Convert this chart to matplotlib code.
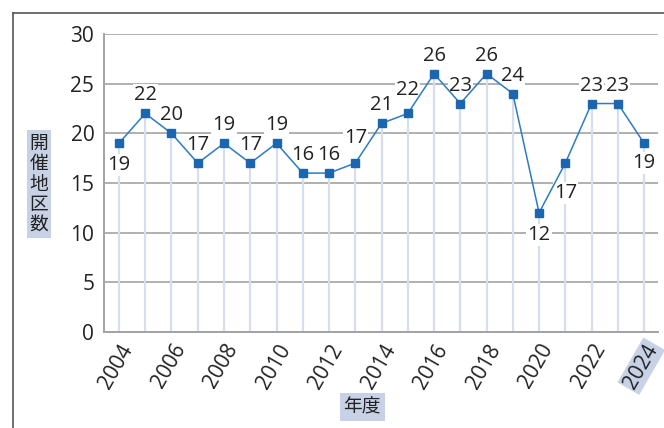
import matplotlib.pyplot as plt
from matplotlib.lines import Line2D

plt.rcParams['font.family'] = ['Open Sans', 'Noto Sans CJK JP', 'DejaVu Sans']

years = list(range(2004, 2025))
counts = [19, 22, 20, 17, 19, 17, 19, 16, 16, 17, 21, 22, 26, 23, 26, 24, 12, 17, 23, 23, 19]
tick_years = list(range(2004, 2025, 2))
ylabel = '開催地区数'
xlabel = '年度'

# label offsets (pixels), negative = below the marker
label_dy = {2004: -22, 2013: 25, 2015: 23, 2020: -22, 2021: -30, 2024: -20}

fig = plt.figure(figsize=(6.64, 4.28), dpi=100)
W, H = 664, 428
ax = fig.add_axes([104 / W, 1 - 332 / H, 554 / W, 298 / H])

line_col = '#2c7bc4'
mark_col = '#1c66b0'
grid_col = '#a3a3a3'
drop_col = '#d6ddef'
hl = '#c8d2e6'

# drop lines from each point to the axis
ax.vlines(years, 0, counts, color=drop_col, lw=1.6, zorder=1)
ax.plot(years, counts, color=line_col, lw=1.1, zorder=3)
ax.plot(years, counts, ls='none', marker='s', ms=5.3, color=mark_col, zorder=4)

for y, c in zip(years, counts):
    dy = label_dy.get(y, 18)
    ax.annotate(str(c), (y, c), xytext=(0, dy), textcoords='offset pixels',
                ha='center', va='center', fontsize=14.5, color='#222222', zorder=2,
                bbox=dict(boxstyle='square,pad=0.05', fc='white', ec='none'))

ax.set_xlim(2003.43, 2024.53)
ax.set_ylim(0, 30)
ax.set_yticks(range(0, 31, 5))
ax.set_xticks(tick_years)
ax.set_xticklabels([str(t) for t in tick_years], rotation=60, ha='right', va='top',
                   rotation_mode='anchor', fontsize=15, color='#222222')
ax.tick_params(axis='y', length=0, pad=7, labelsize=15, labelcolor='#222222')
ax.tick_params(axis='x', length=0, pad=6)
ax.yaxis.grid(True, color=grid_col, lw=1.2)
ax.set_axisbelow(True)
for s in ['top', 'right']:
    ax.spines[s].set_visible(False)
for s in ['left', 'bottom']:
    ax.spines[s].set_color(grid_col)
    ax.spines[s].set_linewidth(1.4)

ax.get_xticklabels()[-1].set_bbox(dict(boxstyle='square,pad=0.1', fc=hl, ec='none'))

fig.text(39 / W, 1 - 184 / H, '\n'.join(ylabel), ha='center', va='center',
         fontsize=13.5, color='#222222', linespacing=0.95,
         family=['Noto Sans CJK JP', 'DejaVu Sans'],
         bbox=dict(boxstyle='square,pad=0.15', fc=hl, ec='none'))
fig.text(362 / W, 1 - 407 / H, xlabel, ha='center', va='center',
         fontsize=13.5, color='#222222', family=['Noto Sans CJK JP', 'DejaVu Sans'],
         bbox=dict(boxstyle='square,pad=0.2', fc=hl, ec='none'))

# outer frame
fig.add_artist(Line2D([13 / W, 13 / W], [0, 1 - 13 / H], transform=fig.transFigure,
                      color='#555555', lw=1.2))
fig.add_artist(Line2D([13 / W, 1], [1 - 13 / H, 1 - 13 / H], transform=fig.transFigure,
                      color='#555555', lw=1.2))

fig.savefig('out.png', dpi=100)
